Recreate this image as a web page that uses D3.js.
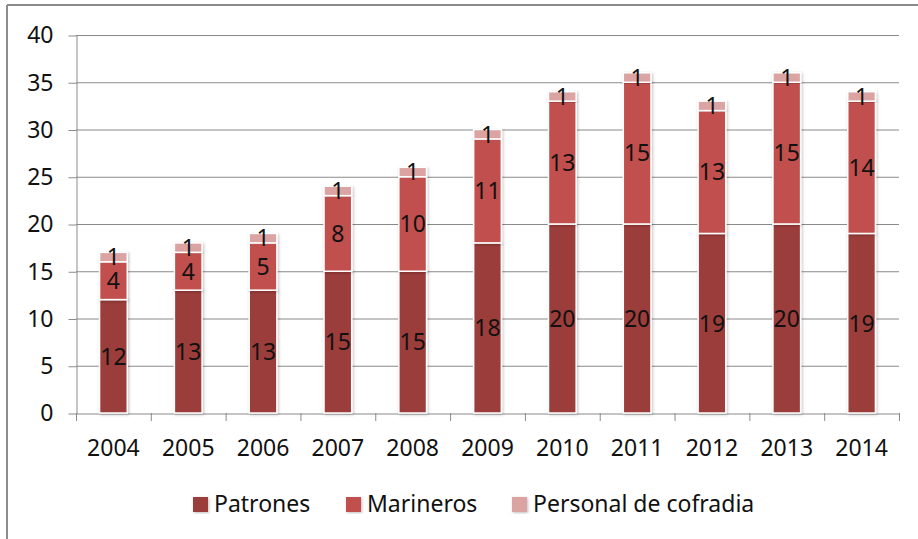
<!DOCTYPE html>
<html>
<head>
<script src="https://d3js.org/d3.v7.min.js"></script>
<style>
  body { margin: 0; background: #fff; }
  text { font-family: 'Noto Sans', sans-serif; fill: #111; }
</style>
</head>
<body>
<script>
  var years = ["2004","2005","2006","2007","2008","2009","2010","2011","2012","2013","2014"];
  var patrones  = [12,13,13,15,15,18,20,20,19,20,19];
  var marineros = [4,4,5,8,10,11,13,15,13,15,14];
  var personal  = [1,1,1,1,1,1,1,1,1,1,1];
  var seriesNames = ["Patrones", "Marineros", "Personal de cofradia"];
  var colors = ["#9b3c3a", "#c0504d", "#dba3a2"];
  var yTicks = [0,5,10,15,20,25,30,35,40];

  var W = 918, H = 539;
  var fs = "23px";
  var svg = d3.select("body").append("svg").attr("width", W).attr("height", H);

  // outer frame (only top and left visible)
  svg.append("line").attr("x1", 7).attr("x2", W).attr("y1", 5).attr("y2", 5)
    .style("stroke", "#8c8c8c").style("stroke-width", 2);
  svg.append("line").attr("x1", 7).attr("x2", 7).attr("y1", 5).attr("y2", H)
    .style("stroke", "#8c8c8c").style("stroke-width", 2);

  var defs = svg.append("defs");
  var f = defs.append("filter").attr("id", "sh").attr("x", "-30%").attr("y", "-10%")
    .attr("width", "160%").attr("height", "120%");
  f.append("feDropShadow").attr("dx", 1).attr("dy", 1).attr("stdDeviation", 1.5)
    .attr("flood-color", "#000").attr("flood-opacity", 0.25);

  var pLeft = 76, pRight = 899, pTop = 35, pBottom = 413;

  var x = d3.scaleBand().domain(years).range([pLeft, pRight]).paddingInner(0.63).paddingOuter(0.315);
  var xb = d3.scaleBand().domain(years).range([pLeft, pRight]);
  var y = d3.scaleLinear().domain([0, 40]).range([pBottom, pTop]);

  // gridlines
  svg.append("g").selectAll("line").data(yTicks.filter(function(d){ return d > 0; })).enter()
    .append("line")
    .attr("x1", pLeft).attr("x2", pRight)
    .attr("y1", function(d){ return y(d) + 0.5; }).attr("y2", function(d){ return y(d) + 0.5; })
    .style("stroke", "#8a8a8a").style("stroke-width", 1);

  // y axis
  var yAxis = svg.append("g").attr("transform", "translate(" + (pLeft + 0.5) + ",0.5)")
    .call(d3.axisLeft(y).tickValues(yTicks).tickSize(8).tickSizeOuter(0).tickPadding(15));
  yAxis.select(".domain").style("stroke", "#8a8a8a");
  yAxis.selectAll(".tick line").style("stroke", "#8a8a8a");
  yAxis.selectAll("text").style("font-size", fs).style("fill", "#111");

  // x axis
  var xAxis = svg.append("g").attr("transform", "translate(0," + (pBottom + 0.5) + ")")
    .call(d3.axisBottom(xb).tickSize(0).tickPadding(26));
  xAxis.select(".domain").style("stroke", "#8a8a8a");
  xAxis.selectAll("text").style("font-size", fs).style("fill", "#111");
  svg.append("g").selectAll("line").data(d3.range(years.length + 1)).enter()
    .append("line")
    .attr("x1", function(i){ return pLeft + i * xb.step() + 0.5; })
    .attr("x2", function(i){ return pLeft + i * xb.step() + 0.5; })
    .attr("y1", pBottom).attr("y2", pBottom + 8)
    .style("stroke", "#8a8a8a");

  var data = years.map(function(yr, i){
    return {year: yr, Patrones: patrones[i], Marineros: marineros[i], "Personal de cofradia": personal[i]};
  });
  var stack = d3.stack().keys(seriesNames)(data);

  var bars = svg.append("g");
  stack.forEach(function(s, k){
    bars.append("g").selectAll("rect").data(s).enter()
      .append("rect")
      .attr("x", function(d){ return x(d.data.year); })
      .attr("y", function(d){ return y(d[1]); })
      .attr("width", x.bandwidth())
      .attr("height", function(d){ return y(d[0]) - y(d[1]); })
      .style("fill", colors[k])
      .style("stroke", "#fff").style("stroke-width", 1.5)
      .attr("filter", "url(#sh)");
  });

  // value labels
  stack.forEach(function(s, k){
    svg.append("g").selectAll("text").data(s).enter()
      .append("text")
      .attr("x", function(d){ return x(d.data.year) + x.bandwidth() / 2; })
      .attr("y", function(d){ return (y(d[0]) + y(d[1])) / 2; })
      .attr("dy", "0.36em")
      .attr("text-anchor", "middle")
      .style("font-size", fs)
      .text(function(d){ return d[1] - d[0]; });
  });

  // legend
  var legX = [193, 346, 512];
  var leg = svg.append("g");
  seriesNames.forEach(function(n, k){
    leg.append("rect").attr("x", legX[k]).attr("y", 497).attr("width", 15).attr("height", 15)
      .style("fill", colors[k]).attr("filter", "url(#sh)");
    leg.append("text").attr("x", legX[k] + 21).attr("y", 512)
      .style("font-size", fs).text(n);
  });
</script>
</body>
</html>
